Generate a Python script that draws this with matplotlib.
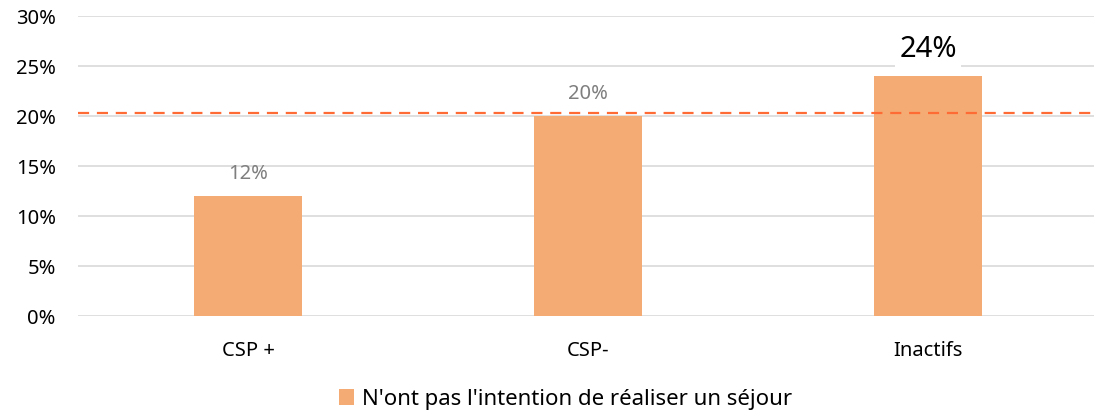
import matplotlib.pyplot as plt
from matplotlib.patches import Patch

categories = ["CSP +", "CSP-", "Inactifs"]
values = [12, 20, 24]
labels = ["12%", "20%", "24%"]
moyenne = 20.3
yticks = [0, 5, 10, 15, 20, 25, 30]

plt.rcParams['font.family'] = ['Noto Sans', 'DejaVu Sans']

fig = plt.figure(figsize=(10.94, 4.17), dpi=100)
ax = fig.add_axes([0.0713, 0.2422, 0.9324, 0.7194])

x = range(len(categories))
ax.bar(x, values, width=0.315, color="#F4AC74", zorder=2)
ax.axhline(moyenne, color="#FF6B35", linestyle=(0, (5, 3.5)), linewidth=1.6, zorder=3)

for i, (v, lab) in enumerate(zip(values, labels)):
    if i == len(values) - 1:
        ax.text(i, v + 1.2, lab, ha="center", va="bottom", fontsize=21, color="#000000",
                bbox=dict(facecolor="white", edgecolor="none", pad=3), zorder=4)
    else:
        ax.text(i, v + 1.2, lab, ha="center", va="bottom", fontsize=14.5, color="#7f7f7f", zorder=4)

ax.set_xlim(-0.5, 2.5)
ax.set_ylim(0, 30)
ax.set_yticks(yticks)
ax.set_yticklabels([f"{t}%" for t in yticks], fontsize=14.5)
ax.set_xticks(list(x))
ax.set_xticklabels(categories, fontsize=14.5)
ax.tick_params(axis="both", length=0, colors="#000000")
ax.tick_params(axis="x", pad=18)
ax.tick_params(axis="y", pad=16)
ax.grid(axis="y", color="#d9d9d9", linewidth=1.2, zorder=0)
ax.set_axisbelow(True)
for s in ax.spines.values():
    s.set_visible(False)

handle = Patch(facecolor="#F4AC74", edgecolor="none")
fig.legend([handle], ["N'ont pas l'intention de réaliser un séjour"], loc="center",
           bbox_to_anchor=(0.517, 0.042), frameon=False, fontsize=16,
           handlelength=0.7, handleheight=0.7, handletextpad=0.35)

fig.savefig("out.png", dpi=100)
